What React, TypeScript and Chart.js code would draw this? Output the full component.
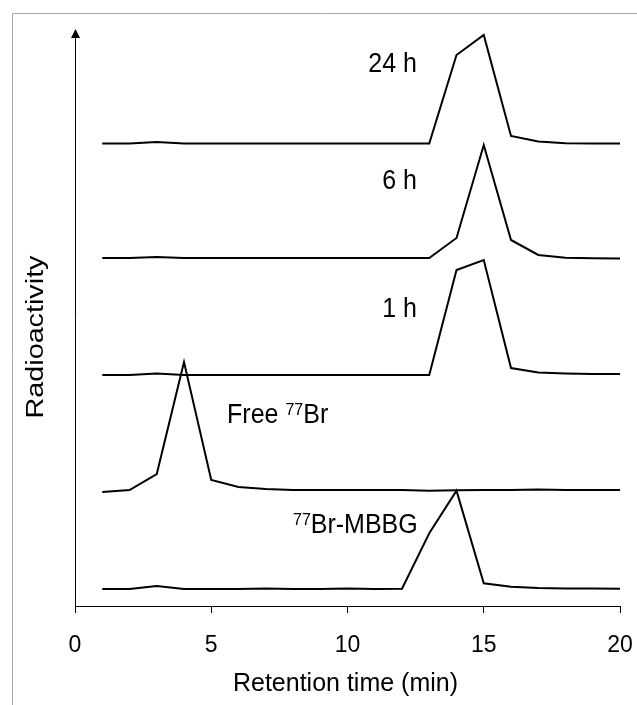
import React, { useEffect, useRef } from "react";
import { Chart, registerables } from "chart.js";

Chart.register(...registerables);

// ---- data ----
const retentionTimes = [1, 2, 3, 4, 5, 6, 7, 8, 9, 10, 11, 12, 13, 14, 15, 16, 17, 18, 19, 20];

// Each trace is plotted with its own vertical offset (stacked chromatograms), arbitrary units
const trace24h = [462.5, 462.5, 464, 462.5, 462.5, 462.5, 462.5, 462.5, 462.5, 462.5, 462.5, 462.5, 462.5, 551, 571, 470, 464.5, 462.7, 462.5, 462.5];
const trace6h = [348, 348, 349, 348, 348, 348, 348, 348, 348, 348, 348, 348, 348, 368, 461, 366, 351, 348.3, 347.8, 347.6];
const trace1h = [231, 231, 232.5, 231, 231, 231, 231, 231, 231, 231, 231, 231, 231, 336, 346, 238, 233.5, 232.5, 232, 232];
const traceFreeBr = [114, 116, 132, 244, 126, 119, 117, 116, 116, 116, 116, 116, 115.3, 115.7, 116, 116, 116.5, 116, 116, 116];
const traceMBBG = [17, 17, 20, 17, 17, 17, 17.5, 17, 17, 17.5, 17, 17.3, 72.7, 115.3, 22.7, 19.3, 18, 17.5, 17.4, 17.3];

const xTickValues = [0, 5, 10, 15, 20];

// trace labels: even indices normal text, odd indices superscript
const traceLabels = [["24 h"], ["6 h"], ["1 h"], ["Free ", "77", "Br"], ["", "77", "Br-MBBG"]];
const labelAnchorX = [12.55, 12.55, 12.55, 5.58, 8.0];
const labelAnchorY = [534.5, 417, 289, 183, 73];
const labelAlign = ["right", "right", "right", "left", "left"];

const xTitle = "Retention time (min)";
const yTitle = "Radioactivity";

const FONT = "'Liberation Sans', Arial, Helvetica, sans-serif";

function drawSegments(ctx: CanvasRenderingContext2D, segs: string[], x: number, y: number, align: string) {
  const mainSize = 25;
  const supSize = 16;
  const sy = 1.08;
  const widths = segs.map((s, i) => {
    ctx.font = `${i % 2 ? supSize : mainSize}px ${FONT}`;
    return ctx.measureText(s).width;
  });
  const total = widths.reduce((a, b) => a + b, 0);
  let cx = align === "right" ? x - total : x;
  segs.forEach((s, i) => {
    const sup = i % 2 === 1;
    ctx.font = `${sup ? supSize : mainSize}px ${FONT}`;
    ctx.save();
    ctx.translate(cx, sup ? y - 8 : y);
    ctx.scale(1, sy);
    ctx.textAlign = "left";
    ctx.textBaseline = "alphabetic";
    ctx.fillText(s, 0, 0);
    ctx.restore();
    cx += widths[i];
  });
}

const overlayPlugin = {
  id: "overlay",
  afterDraw(chart: any) {
    const { ctx, chartArea, scales } = chart;
    const xs = scales.x;
    const ys = scales.y;
    ctx.save();
    // outer frame (left and top edges visible)
    ctx.strokeStyle = "#a8a8a8";
    ctx.lineWidth = 1;
    ctx.beginPath();
    ctx.moveTo(12.5, 705);
    ctx.lineTo(12.5, 13.5);
    ctx.lineTo(637, 13.5);
    ctx.stroke();

    // arrow head on y axis
    const ax = Math.round(chartArea.left) + 0.5;
    ctx.fillStyle = "#000";
    ctx.beginPath();
    ctx.moveTo(ax, chartArea.top - 1);
    ctx.lineTo(ax - 4.5, chartArea.top + 8);
    ctx.lineTo(ax + 4.5, chartArea.top + 8);
    ctx.closePath();
    ctx.fill();

    // trace labels
    traceLabels.forEach((segs, i) => {
      drawSegments(ctx, segs, xs.getPixelForValue(labelAnchorX[i]), ys.getPixelForValue(labelAnchorY[i]), labelAlign[i]);
    });

    // x title
    ctx.font = `25px ${FONT}`;
    ctx.textAlign = "center";
    ctx.textBaseline = "alphabetic";
    ctx.save();
    ctx.translate((chartArea.left + chartArea.right) / 2 - 2, 691);
    ctx.scale(1, 1.05);
    ctx.fillText(xTitle, 0, 0);
    ctx.restore();

    // y title
    ctx.font = `23px ${FONT}`;
    ctx.save();
    ctx.translate(43, 337);
    ctx.rotate(-Math.PI / 2);
    ctx.scale(1.25, 1);
    ctx.textAlign = "center";
    ctx.fillText(yTitle, 0, 0);
    ctx.restore();

    ctx.restore();
  },
};

export default function App() {
  const canvasRef = useRef<HTMLCanvasElement | null>(null);

  useEffect(() => {
    if (!canvasRef.current) return;
    const mk = (vals: number[]) => retentionTimes.map((t, i) => ({ x: t, y: vals[i] }));
    const series = [trace24h, trace6h, trace1h, traceFreeBr, traceMBBG];
    const chart = new Chart(canvasRef.current, {
      type: "line",
      data: {
        datasets: series.map((s) => ({
          data: mk(s),
          borderColor: "#000",
          borderWidth: 2,
          pointRadius: 0,
          tension: 0,
          fill: false,
        })),
      },
      options: {
        animation: false,
        responsive: false,
        devicePixelRatio: 1,
        layout: { padding: { left: 0, right: 17, top: 30, bottom: 0 } },
        plugins: { legend: { display: false }, tooltip: { enabled: false } },
        scales: {
          x: {
            type: "linear",
            min: 0,
            max: 20,
            afterBuildTicks: (scale: any) => {
              scale.ticks = xTickValues.map((v) => ({ value: v }));
            },
            ticks: { color: "#000", font: { size: 23, family: FONT }, padding: 19, maxRotation: 0 },
            grid: { drawOnChartArea: false, drawTicks: true, tickLength: 7, color: "#000", lineWidth: 1 },
            border: { display: true, color: "#000", width: 1 },
            afterFit: (scale: any) => {
              scale.height = 99;
              scale.paddingLeft = 0;
              scale.paddingRight = 0;
            },
          },
          y: {
            type: "linear",
            min: 0,
            max: 576,
            ticks: { display: false },
            grid: { display: false, drawTicks: false },
            border: { display: true, color: "#000", width: 1 },
            afterFit: (scale: any) => {
              scale.width = 75;
              scale.paddingTop = 0;
              scale.paddingBottom = 0;
            },
          },
        },
      },
      plugins: [overlayPlugin],
    });
    return () => chart.destroy();
  }, []);

  return (
    <div style={{ position: "fixed", left: 0, top: 0, width: 637, height: 705, background: "#fff" }}>
      <canvas ref={canvasRef} width={637} height={705} style={{ display: "block" }} />
    </div>
  );
}
